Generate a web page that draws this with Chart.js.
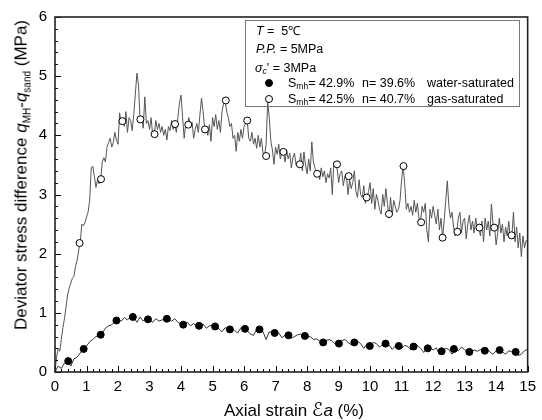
<!DOCTYPE html>
<html><head><meta charset="utf-8">
<script src="https://cdn.jsdelivr.net/npm/chart.js@4.4.1/dist/chart.umd.min.js"></script>
<style>
html,body{margin:0;padding:0;background:#fff;}
#wrap{position:relative;width:542px;height:420px;font-family:"Liberation Sans",Arial,sans-serif;color:#000;overflow:hidden;}
canvas{position:absolute;left:0;top:0;}
.t{position:absolute;white-space:nowrap;line-height:1;}
#ytitle{left:21px;top:175px;font-size:17px;transform:translate(-50%,-50%) rotate(-90deg);}
#xtitle{left:294px;top:409px;font-size:17px;transform:translate(-50%,-50%);}
.sub{font-size:10px;position:relative;top:4px;}
#legend{position:absolute;left:245px;top:20px;width:273px;height:85px;border:1px solid #777;}
.lg{font-size:12.5px;transform:translateY(-50%);}
.lsub{font-size:8.5px;position:relative;top:2px;}
.mk{position:absolute;width:6px;height:6px;border-radius:50%;border:1px solid #000;transform:translate(-50%,-50%);}
</style>
</head><body>
<div id="wrap">
<canvas id="c" width="542" height="420"></canvas>
<div id="ytitle" class="t">Deviator stress difference <i>q</i><span class="sub">MH</span>-<i>q</i><span class="sub">sand</span> (MPa)</div>
<div id="xtitle" class="t">Axial strain <span style="font-family:'DejaVu Sans';font-style:italic;font-size:19px">ℰ</span><i>a</i> (%)</div>
<div id="legend"></div>
<div class="t lg" style="left:256px;top:31px"><i>T</i> =&nbsp; 5℃</div>
<div class="t lg" style="left:256px;top:49px"><i>P.P.</i> = 5MPa</div>
<div class="t lg" style="left:255px;top:68px"><i>σ</i><span class="lsub"><i>c</i></span>' = 3MPa</div>
<div class="mk" style="left:269px;top:83px;background:#000"></div>
<div class="t lg" style="left:288px;top:83px">S<span class="lsub">mh</span>= 42.9%</div>
<div class="t lg" style="left:362px;top:83px">n= 39.6%</div>
<div class="t lg" style="left:427px;top:83px">water-saturated</div>
<div class="mk" style="left:269px;top:99px;background:#fff"></div>
<div class="t lg" style="left:288px;top:99px">S<span class="lsub">mh</span>= 42.5%</div>
<div class="t lg" style="left:362px;top:99px">n= 40.7%</div>
<div class="t lg" style="left:427px;top:99px">gas-saturated</div>
</div>
<script>
// Gas-saturated curve (axial strain %, deviator stress MPa)
const gasStrain = [
 0,0.05,0.1,0.15,0.2,0.25,0.3,0.35,0.4,0.45,0.5,0.55,0.6,0.65,0.7,0.75,0.8,0.85,0.9,0.95,
 1,1.05,1.1,1.15,1.2,1.25,1.3,1.35,1.4,1.45,1.5,1.55,1.6,1.65,1.7,1.75,1.8,1.85,1.9,1.95,
 2,2.05,2.1,2.15,2.2,2.25,2.3,2.35,2.4,2.45,2.5,2.55,2.6,2.65,2.7,2.75,2.8,2.85,2.9,2.95,
 3,3.05,3.1,3.15,3.2,3.25,3.3,3.35,3.4,3.45,3.5,3.55,3.6,3.65,3.7,3.75,3.8,3.85,3.9,3.95,
 4,4.05,4.1,4.15,4.2,4.25,4.3,4.35,4.4,4.45,4.5,4.55,4.6,4.65,4.7,4.75,4.8,4.85,4.9,4.95,
 5,5.05,5.1,5.15,5.2,5.25,5.3,5.35,5.4,5.45,5.5,5.55,5.6,5.65,5.7,5.75,5.8,5.85,5.9,5.95,
 6,6.05,6.1,6.15,6.2,6.25,6.3,6.35,6.4,6.45,6.5,6.55,6.6,6.65,6.7,6.75,6.8,6.85,6.9,6.95,
 7,7.05,7.1,7.15,7.2,7.25,7.3,7.35,7.4,7.45,7.5,7.55,7.6,7.65,7.7,7.75,7.8,7.85,7.9,7.95,
 8,8.05,8.1,8.15,8.2,8.25,8.3,8.35,8.4,8.45,8.5,8.55,8.6,8.65,8.7,8.75,8.8,8.85,8.9,8.95,
 9,9.05,9.1,9.15,9.2,9.25,9.3,9.35,9.4,9.45,9.5,9.55,9.6,9.65,9.7,9.75,9.8,9.85,9.9,9.95,
 10,10.05,10.1,10.15,10.2,10.25,10.3,10.35,10.4,10.45,10.5,10.55,10.6,10.65,10.7,10.75,10.8,10.85,10.9,10.95,
 11,11.05,11.1,11.15,11.2,11.25,11.3,11.35,11.4,11.45,11.5,11.55,11.6,11.65,11.7,11.75,11.8,11.85,11.9,11.95,
 12,12.05,12.1,12.15,12.2,12.25,12.3,12.35,12.4,12.45,12.5,12.55,12.6,12.65,12.7,12.75,12.8,12.85,12.9,12.95,
 13,13.05,13.1,13.15,13.2,13.25,13.3,13.35,13.4,13.45,13.5,13.55,13.6,13.65,13.7,13.75,13.8,13.85,13.9,13.95,
 14,14.05,14.1,14.15,14.2,14.25,14.3,14.35,14.4,14.45,14.5,14.55,14.6,14.65,14.7,14.75,14.8,14.85,14.9,14.95,
 15];
const gasStress = [
 0,0.25,0.40,0.35,0.55,0.75,0.90,1.10,1.30,1.42,1.50,1.58,1.62,1.78,1.88,2.05,2.18,2.50,2.47,2.52,
 2.62,2.70,2.90,3.45,3.48,3.30,3.12,3.25,3.18,3.26,3.55,3.62,3.55,3.80,3.88,3.95,3.80,3.88,4.05,3.92,
 3.85,4.38,4.20,4.25,4.15,4.40,4.05,4.30,4.25,4.08,4.35,4.70,5.05,4.85,4.25,4.30,4.12,4.65,4.20,4.25,
 4.10,4.30,4.00,4.02,4.25,4.10,4.20,4.05,4.15,4.00,4.10,3.92,4.15,4.08,4.25,4.10,4.20,4.05,4.30,4.55,
 4.68,4.30,3.95,4.20,4.18,4.30,4.15,4.22,3.95,4.10,4.20,4.05,4.35,4.63,4.40,4.10,4.15,4.00,4.18,3.90,
 4.30,4.15,4.35,4.10,4.25,4.05,4.40,4.54,4.59,4.40,4.30,4.15,4.20,3.95,4.00,3.73,4.05,3.90,4.10,3.95,
 4.15,4.20,4.25,3.95,3.90,4.05,3.85,3.95,3.78,4.00,3.80,3.95,3.70,3.65,3.85,4.57,4.30,3.90,3.75,3.51,
 3.80,3.68,3.85,3.60,3.72,3.72,3.55,3.75,3.60,3.70,3.45,3.62,3.70,3.50,3.55,3.51,3.70,3.40,3.72,3.50,
 3.35,3.60,3.40,3.89,3.55,3.45,3.35,3.40,3.25,3.45,3.30,3.40,3.20,3.35,3.28,3.45,3.00,3.55,3.51,3.45,
 3.20,3.35,3.40,3.15,3.31,3.30,3.00,3.25,3.10,3.20,3.40,3.05,2.95,3.25,3.00,2.95,3.15,2.85,2.95,3.05,
 3.20,2.85,3.10,2.75,3.00,2.90,2.75,2.67,3.00,2.80,3.10,2.85,2.60,2.95,2.65,2.90,2.80,2.70,2.75,2.90,
 3.25,3.50,3.15,2.75,2.85,2.70,2.80,2.65,2.90,2.70,2.85,2.60,2.53,2.80,2.70,2.85,2.40,2.20,2.75,2.60,
 2.80,2.65,2.50,2.75,2.40,2.60,2.27,2.55,2.90,3.23,2.80,2.60,2.70,2.45,2.30,2.37,2.60,2.70,2.35,2.55,
 2.60,2.25,2.50,2.65,2.40,2.55,2.35,2.60,2.45,2.44,2.30,2.55,2.20,2.60,2.40,2.55,2.30,2.84,2.50,2.44,
 2.15,2.35,2.60,2.35,2.50,2.20,2.45,2.30,2.55,2.25,2.31,2.70,2.20,2.45,2.10,2.35,1.95,2.30,2.10,2.22,
 2.22];
// Water-saturated curve
const waterStrain = [
 0,0.1,0.2,0.3,0.4,0.5,0.6,0.7,0.8,0.9,
 1,1.1,1.2,1.3,1.4,1.5,1.6,1.7,1.8,1.9,
 2,2.1,2.2,2.3,2.4,2.5,2.6,2.7,2.8,2.9,
 3,3.1,3.2,3.3,3.4,3.5,3.6,3.7,3.8,3.9,
 4,4.1,4.2,4.3,4.4,4.5,4.6,4.7,4.8,4.9,
 5,5.1,5.2,5.3,5.4,5.5,5.6,5.7,5.8,5.9,
 6,6.1,6.2,6.3,6.4,6.5,6.6,6.7,6.8,6.9,
 7,7.1,7.2,7.3,7.4,7.5,7.6,7.7,7.8,7.9,
 8,8.1,8.2,8.3,8.4,8.5,8.6,8.7,8.8,8.9,
 9,9.1,9.2,9.3,9.4,9.5,9.6,9.7,9.8,9.9,
 10,10.1,10.2,10.3,10.4,10.5,10.6,10.7,10.8,10.9,
 11,11.1,11.2,11.3,11.4,11.5,11.6,11.7,11.8,11.9,
 12,12.1,12.2,12.3,12.4,12.5,12.6,12.7,12.8,12.9,
 13,13.1,13.2,13.3,13.4,13.5,13.6,13.7,13.8,13.9,
 14,14.1,14.2,14.3,14.4,14.5,14.6,14.7,14.8,14.9,
 15];
const waterStress = [
 0,0.10,0.06,0.15,0.17,0.10,0.22,0.25,0.32,0.39,
 0.44,0.51,0.55,0.60,0.61,0.66,0.74,0.78,0.80,0.85,
 0.88,0.86,0.92,0.88,0.94,0.92,0.84,0.93,0.86,0.92,
 0.88,0.84,0.90,0.86,0.88,0.91,0.90,0.86,0.90,0.84,
 0.81,0.80,0.84,0.78,0.82,0.76,0.79,0.81,0.74,0.78,
 0.79,0.77,0.73,0.68,0.75,0.72,0.74,0.70,0.66,0.75,
 0.73,0.70,0.64,0.62,0.72,0.74,0.68,0.55,0.68,0.66,
 0.63,0.66,0.58,0.62,0.63,0.57,0.60,0.63,0.64,0.61,
 0.58,0.60,0.55,0.56,0.52,0.50,0.53,0.55,0.52,0.47,
 0.49,0.53,0.55,0.50,0.46,0.50,0.52,0.48,0.40,0.47,
 0.45,0.50,0.48,0.42,0.47,0.49,0.46,0.38,0.44,0.45,
 0.40,0.45,0.43,0.37,0.43,0.45,0.40,0.33,0.40,0.42,
 0.37,0.41,0.30,0.36,0.40,0.38,0.30,0.40,0.36,0.42,
 0.38,0.32,0.34,0.37,0.35,0.38,0.36,0.40,0.34,0.30,
 0.36,0.38,0.34,0.30,0.36,0.34,0.33,0.28,0.30,0.36,
 0.38];
// Marker symbols
const gasMarkStrain = [0.78,1.46,2.14,2.71,3.16,3.81,4.23,4.76,5.42,6.10,6.70,7.25,7.77,8.32,8.95,9.32,9.89,10.60,11.06,11.62,12.30,12.77,13.47,13.94,14.49];
const gasMarkStress = [2.18,3.26,4.24,4.27,4.02,4.19,4.18,4.10,4.59,4.25,3.65,3.72,3.51,3.35,3.51,3.31,2.95,2.67,3.48,2.53,2.27,2.37,2.44,2.44,2.31];
const waterMarkStrain = [0.42,0.91,1.45,1.95,2.47,2.95,3.55,4.07,4.57,5.08,5.55,6.03,6.49,6.97,7.41,7.93,8.51,9.01,9.50,9.99,10.49,10.91,11.38,11.83,12.27,12.66,13.15,13.64,14.11,14.62];
const waterMarkStress = [0.185,0.39,0.63,0.87,0.93,0.89,0.90,0.80,0.78,0.77,0.72,0.73,0.72,0.66,0.62,0.61,0.50,0.48,0.50,0.44,0.48,0.44,0.43,0.40,0.35,0.39,0.34,0.36,0.37,0.34];
// Axis ranges and ticks
const xMin = 0, xMax = 15, xMajor = 1, xMinor = 0.2;
const yMin = 0, yMax = 6, yMajor = 1, yMinor = 0.2;

const pts = (xs, ys) => xs.map((x, i) => ({x, y: ys[i]}));

const frameTicks = {
  id: 'frameTicks',
  afterDatasetsDraw(chart) {
    const {ctx, chartArea: a, scales: {x, y}} = chart;
    ctx.save();
    ctx.strokeStyle = '#000';
    ctx.lineWidth = 1;
    const nx = Math.round((xMax - xMin) / xMinor);
    for (let i = 0; i <= nx; i++) {
      const v = xMin + i * xMinor;
      const px = Math.round(x.getPixelForValue(v)) + 0.5;
      const len = (i % Math.round(xMajor / xMinor) === 0) ? 6 : 3;
      ctx.beginPath(); ctx.moveTo(px, a.bottom); ctx.lineTo(px, a.bottom - len); ctx.stroke();
    }
    const ny = Math.round((yMax - yMin) / yMinor);
    for (let i = 0; i <= ny; i++) {
      const v = yMin + i * yMinor;
      const py = Math.round(y.getPixelForValue(v)) + 0.5;
      const len = (i % Math.round(yMajor / yMinor) === 0) ? 6 : 3;
      ctx.beginPath(); ctx.moveTo(a.left, py); ctx.lineTo(a.left + len, py); ctx.stroke();
    }
    ctx.lineWidth = 1.6;
    ctx.strokeStyle = '#222';
    ctx.strokeRect(a.left, a.top, a.right - a.left, a.bottom - a.top);
    ctx.restore();
  }
};

new Chart(document.getElementById('c'), {
  type: 'line',
  data: {
    datasets: [
      {label: 'gas line', data: pts(gasStrain, gasStress), borderColor: '#555', borderWidth: 1, pointRadius: 0, tension: 0, order: 3},
      {label: 'water line', data: pts(waterStrain, waterStress), borderColor: '#333', borderWidth: 1, pointRadius: 0, tension: 0, order: 3},
      {label: 'Smh= 42.5% n= 40.7% gas-saturated', data: pts(gasMarkStrain, gasMarkStress), showLine: false, pointRadius: 3.5, pointBackgroundColor: '#fff', pointBorderColor: '#000', pointBorderWidth: 1, order: 1},
      {label: 'Smh= 42.9% n= 39.6% water-saturated', data: pts(waterMarkStrain, waterMarkStress), showLine: false, pointRadius: 3.5, pointBackgroundColor: '#000', pointBorderColor: '#000', pointBorderWidth: 1, order: 1}
    ]
  },
  options: {
    responsive: false,
    animation: false,
    devicePixelRatio: 1,
    layout: {padding: {top: 15, right: 8, left: 0, bottom: 0}},
    plugins: {legend: {display: false}, tooltip: {enabled: false}},
    scales: {
      x: {
        type: 'linear', min: xMin, max: xMax,
        ticks: {stepSize: xMajor, color: '#000', font: {family: 'Liberation Sans', size: 15}, padding: 6, maxRotation: 0, autoSkip: false},
        grid: {display: false, drawTicks: false},
        border: {display: false},
        afterFit(s) { s.height = 48; }
      },
      y: {
        type: 'linear', min: yMin, max: yMax,
        ticks: {stepSize: yMajor, color: '#000', font: {family: 'Liberation Sans', size: 15}, padding: 8},
        grid: {display: false, drawTicks: false},
        border: {display: false},
        afterFit(s) { s.width = 55; }
      }
    }
  },
  plugins: [frameTicks]
});
</script>
</body></html>
